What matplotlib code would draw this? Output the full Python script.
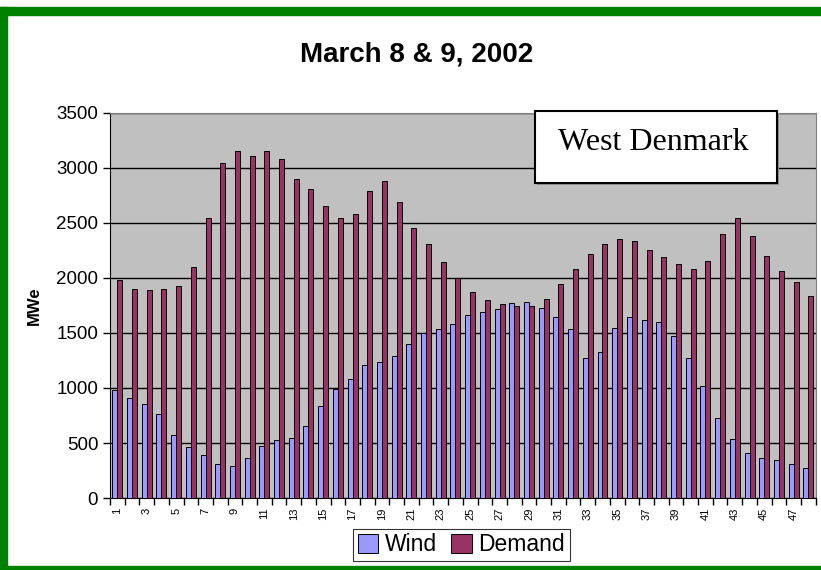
import numpy as np
import matplotlib.pyplot as plt
from matplotlib.patches import Rectangle

plt.rcParams['font.family'] = ['Liberation Sans', 'DejaVu Sans']

# Half-hour periods over the two days
periods = list(range(1, 49))

wind = [982, 906, 858, 764, 576, 467, 388, 312, 294, 361, 470, 524,
        545, 652, 836, 991, 1079, 1209, 1239, 1294, 1397, 1497, 1533, 1582,
        1661, 1691, 1718, 1776, 1782, 1724, 1642, 1539, 1276, 1330, 1545, 1648,
        1618, 1597, 1470, 1276, 1018, 724, 536, 409, 367, 348, 306, 276]

demand = [1979, 1900, 1888, 1900, 1930, 2097, 2542, 3045, 3158, 3109, 3152, 3079,
          2900, 2809, 2654, 2542, 2582, 2788, 2885, 2691, 2458, 2306, 2145, 2003,
          1870, 1797, 1761, 1742, 1748, 1809, 1942, 2082, 2215, 2312, 2355, 2336,
          2251, 2191, 2127, 2085, 2152, 2400, 2548, 2382, 2197, 2064, 1967, 1833]

wind_color = '#9999FF'
demand_color = '#993366'

fig = plt.figure(figsize=(8.21, 5.70), dpi=100)
ax = fig.add_axes([0.134, 0.1263, 0.8595, 0.6755])
ax.set_facecolor('#C0C0C0')

x = np.array(periods)
w = 0.34
ax.bar(x - w / 2, wind, width=w, color=wind_color, edgecolor='black',
       linewidth=0.7, label='Wind', zorder=3)
ax.bar(x + w / 2, demand, width=w, color=demand_color, edgecolor='black',
       linewidth=0.7, label='Demand', zorder=3)

ax.set_xlim(0.5, 48.5)
ax.set_ylim(0, 3500)
ax.set_yticks(range(0, 3501, 500))
ax.yaxis.grid(True, color='black', linewidth=1.0, zorder=1)
ax.tick_params(axis='y', labelsize=13.5, length=5, width=1, direction='out')

# tick marks at category boundaries, labels at odd categories
ax.set_xticks(np.arange(0.5, 49, 1))
ax.set_xticklabels([])
ax.tick_params(axis='x', which='major', length=5, width=1, direction='out')
ax.set_xticks(x, minor=True)
ax.set_xticklabels([str(p) if p % 2 == 1 else '' for p in periods],
                   minor=True, rotation=90, fontsize=8)
ax.tick_params(axis='x', which='minor', length=0, pad=7)

ax.set_ylabel('MWe', fontsize=12, fontweight='bold', labelpad=10)

for s in ['top', 'right']:
    ax.spines[s].set_color('#808080')
for s in ['left', 'bottom']:
    ax.spines[s].set_color('black')

fig.text(0.507, 0.904, 'March 8 & 9, 2002', ha='center', va='center',
         fontsize=20, fontweight='bold')

# label box (with a faint shadow)
fig.patches.append(Rectangle((537 / 821, 1 - 185 / 570), 242 / 821, 72 / 570,
                             transform=fig.transFigure, facecolor='#909090',
                             edgecolor='none', zorder=4))
fig.patches.append(Rectangle((535 / 821, 1 - 183 / 570), 242 / 821, 72 / 570,
                             transform=fig.transFigure, facecolor='white',
                             edgecolor='black', linewidth=1.5, zorder=5))
fig.text(653 / 821, 1 - 142 / 570, 'West Denmark', ha='center', va='center',
         fontsize=23, family='Liberation Serif', zorder=6)

leg = fig.legend(loc='center', bbox_to_anchor=(0.562, 0.044), ncol=2,
                 fontsize=16.5, frameon=True, fancybox=False, edgecolor='black',
                 handlelength=0.9, handleheight=0.9, handletextpad=0.3,
                 columnspacing=0.6, borderpad=0.2, borderaxespad=0)
leg.get_frame().set_linewidth(0.8)

# green frame around the chart
green = '#008000'
fig.patches.append(Rectangle((0, 1 - 15 / 570), 1, 8 / 570,
                             transform=fig.transFigure, color=green, zorder=0))
fig.patches.append(Rectangle((0, 0), 7 / 821, 1 - 7 / 570,
                             transform=fig.transFigure, color=green, zorder=0))
fig.patches.append(Rectangle((0, 0), 1, 4 / 570,
                             transform=fig.transFigure, color=green, zorder=0))

fig.savefig('out.png', dpi=100)
